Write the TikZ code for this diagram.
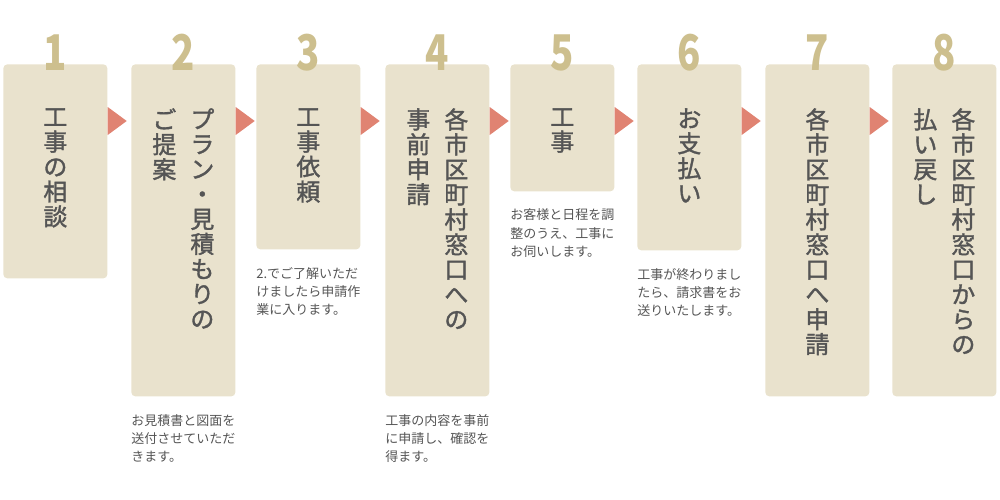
\documentclass[tikz,border=0pt]{standalone}
\usepackage{fontspec}
\setmainfont{Noto Sans CJK JP}
\newfontfamily\numfont{Noto Sans CJK JP}[FakeStretch=0.78]
\newfontfamily\titlefont{Noto Sans CJK JP}[FakeBold=1.5]
\usetikzlibrary{calc}
\definecolor{boxfill}{HTML}{E9E2CD}
\definecolor{numtan}{HTML}{CDBF8E}
\definecolor{arrowred}{HTML}{E08372}
\definecolor{inkgray}{HTML}{555555}

\begin{document}
\begin{tikzpicture}[x=0.2mm,y=-0.2mm]
      \tikzset{stepbox/.style = {fill=boxfill, rounded corners=0.8mm, minimum width=20.8mm, inner sep=0pt, anchor=north west},
        stepnum/.style = {font=\numfont\bfseries\fontsize{28pt}{28pt}\selectfont, text=numtan, anchor=base, inner sep=0pt},
        steptitle/.style = {font=\titlefont\fontsize{13.6pt}{14.2pt}\selectfont, text=inkgray, align=center, anchor=north, inner sep=0pt},
        stepnote/.style = {font=\fontsize{7.4pt}{10.5pt}\selectfont, text=inkgray, align=left, anchor=north west, inner sep=0pt},
        arrowtip/.style = {fill=arrowred}}
      \useasboundingbox (0,0) rectangle (1000,500);

      % Boxes
      \node[stepbox, minimum height=42.8mm] (b1) at (3,64) {};
      \node[stepbox, minimum height=66.4mm] (b2) at (131,64) {};
      \node[stepbox, minimum height=37mm] (b3) at (256,64) {};
      \node[stepbox, minimum height=66.4mm] (b4) at (385,64) {};
      \node[stepbox, minimum height=25.4mm] (b5) at (510,64) {};
      \node[stepbox, minimum height=37.2mm] (b6) at (637,64) {};
      \node[stepbox, minimum height=66.4mm] (b7) at (765,64) {};
      \node[stepbox, minimum height=66.4mm] (b8) at (892,64) {};

      % Numbers and arrows
      \foreach \i in {1,...,8}
        \node[stepnum] (num\i) at ($(b\i.north)+(0,6)$) {\i};
      \foreach \i in {1,...,7}
        \fill[arrowtip] ($(b\i.north east)+(0,43)$) -- ++(19,14) -- ++(-19,14) -- cycle;

      % Titles
      \node[steptitle] (t1) at ($(b1.north)+(0,44)$) {工\\事\\の\\相\\談};
      \node[steptitle] (t2a) at ($(b2.north)+(19,44)$) {プ\\ラ\\ン\\・\\見\\積\\も\\り\\の};
      \node[steptitle] (t2b) at ($(b2.north)+(-19,44)$) {ご\\提\\案};
      \node[steptitle] (t3) at ($(b3.north)+(0,44)$) {工\\事\\依\\頼};
      \node[steptitle] (t4a) at ($(b4.north)+(19,44)$) {各\\市\\区\\町\\村\\窓\\口\\へ\\の};
      \node[steptitle] (t4b) at ($(b4.north)+(-19,44)$) {事\\前\\申\\請};
      \node[steptitle] (t5) at ($(b5.north)+(0,44)$) {工\\事};
      \node[steptitle] (t6) at ($(b6.north)+(0,44)$) {お\\支\\払\\い};
      \node[steptitle] (t7) at ($(b7.north)+(0,44)$) {各\\市\\区\\町\\村\\窓\\口\\へ\\申\\請};
      \node[steptitle] (t8a) at ($(b8.north)+(19,44)$) {各\\市\\区\\町\\村\\窓\\口\\か\\ら\\の};
      \node[steptitle] (t8b) at ($(b8.north)+(-19,44)$) {払\\い\\戻\\し};

      % Notes
      \node[stepnote] (n2) at ($(b2.south west)+(0,17)$) {お見積書と図面を\\送付させていただ\\きます。};
      \node[stepnote] (n3) at ($(b3.south west)+(0,17)$) {2.でご了解いただ\\けましたら申請作\\業に入ります。};
      \node[stepnote] (n4) at ($(b4.south west)+(0,17)$) {工事の内容を事前\\に申請し、確認を\\得ます。};
      \node[stepnote] (n5) at ($(b5.south west)+(0,17)$) {お客様と日程を調\\整のうえ、工事に\\お伺いします。};
      \node[stepnote] (n6) at ($(b6.south west)+(0,17)$) {工事が終わりまし\\たら、請求書をお\\送りいたします。};
\end{tikzpicture}
\end{document}
